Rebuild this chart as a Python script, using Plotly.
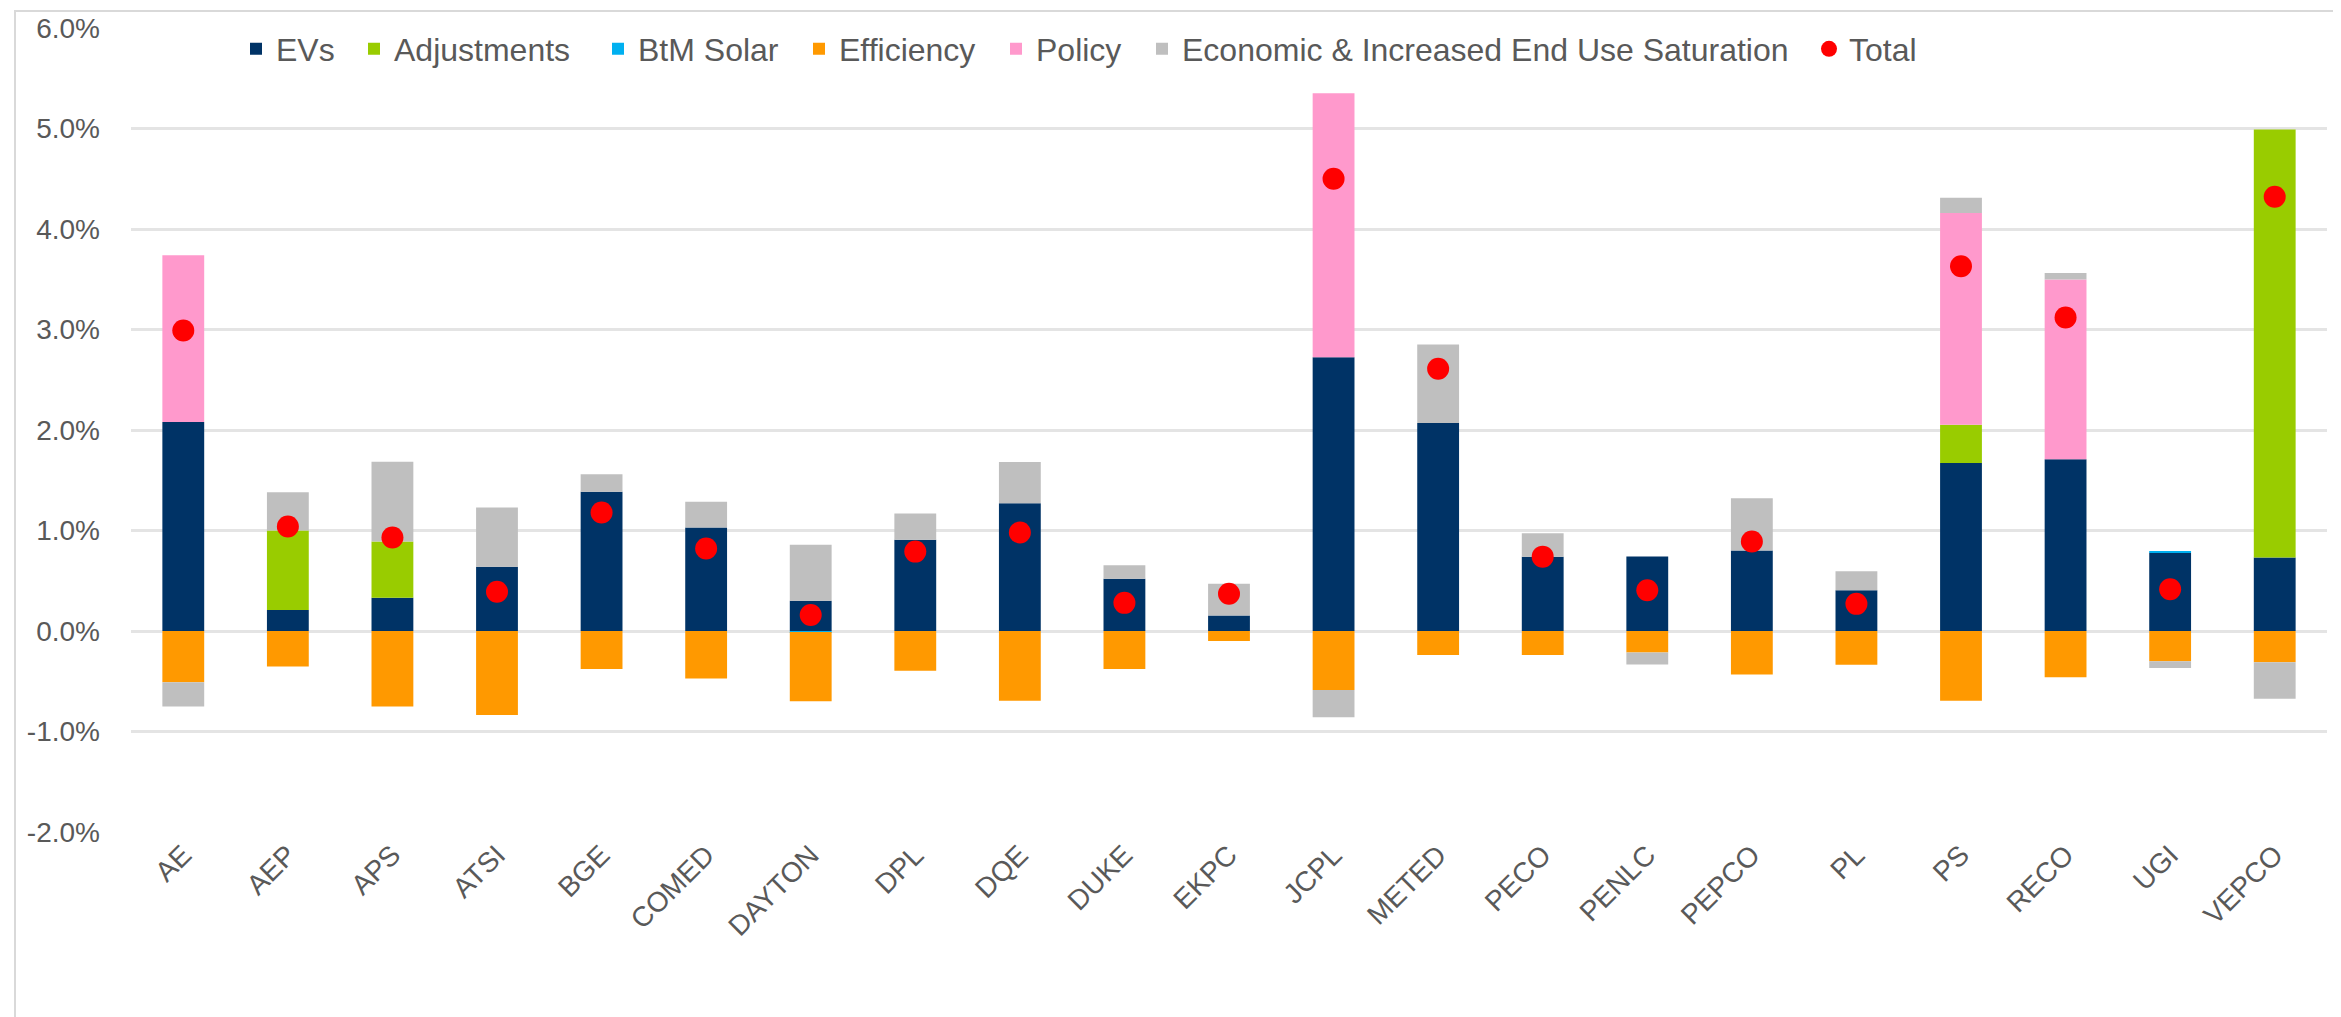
import plotly.graph_objects as go

categories = ["AE", "AEP", "APS", "ATSI", "BGE", "COMED", "DAYTON", "DPL", "DQE", "DUKE",
              "EKPC", "JCPL", "METED", "PECO", "PENLC", "PEPCO", "PL", "PS", "RECO", "UGI", "VEPCO"]

evs = [2.08, 0.21, 0.33, 0.64, 1.385, 1.03, 0.30, 0.908, 1.272, 0.52,
       0.153, 2.725, 2.07, 0.738, 0.741, 0.80, 0.405, 1.672, 1.709, 0.779, 0.731]
adjustments = [0, 0.79, 0.56, 0, 0, 0, 0, 0, 0, 0,
               0, 0, 0, 0, 0, 0, 0, 0.38, 0, 0, 4.26]
btm_solar = [0, 0, 0, 0, 0, 0, -0.01, 0, 0, 0,
             0, 0, 0, 0, 0, 0, 0, 0, 0, 0.01, 0]
efficiency = [-0.51, -0.354, -0.75, -0.837, -0.378, -0.473, -0.69, -0.395, -0.694, -0.378,
              -0.10, -0.588, -0.24, -0.24, -0.214, -0.432, -0.337, -0.694, -0.459, -0.30, -0.31]
policy = [1.66, 0, 0, 0, 0, 0, 0, 0, 0, 0,
          0, 2.625, 0, 0, 0, 0, 0, 2.106, 1.788, 0, 0]
economic = [-0.24, 0.38, 0.795, 0.59, 0.175, 0.255, 0.557, 0.26, 0.41, 0.133,
            0.316, -0.27, 0.78, 0.235, -0.12, 0.52, 0.19, 0.152, 0.066, -0.068, -0.365]
total = [2.99, 1.04, 0.93, 0.39, 1.18, 0.82, 0.16, 0.79, 0.98, 0.28,
         0.37, 4.50, 2.61, 0.74, 0.405, 0.89, 0.27, 3.63, 3.12, 0.415, 4.32]

tick_vals = [-2, -1, 0, 1, 2, 3, 4, 5, 6]
tick_labels = ["-2.0%", "-1.0%", "0.0%", "1.0%", "2.0%", "3.0%", "4.0%", "5.0%", "6.0%"]

series = [
    ("EVs", evs, "#003366"),
    ("Adjustments", adjustments, "#99cc00"),
    ("BtM Solar", btm_solar, "#00b0f0"),
    ("Efficiency", efficiency, "#ff9900"),
    ("Policy", policy, "#ff99cc"),
    ("Economic & Increased End Use Saturation", economic, "#bfbfbf"),
]

# pixel x where each legend entry's text starts (layout only)
legend_text_x = [281, 399, 643, 844, 1041, 1187, 1854]
legend_ids = ["legend"] + ["legend%d" % i for i in range(2, 8)]

fig = go.Figure()
for i, (name, vals, color) in enumerate(series):
    fig.add_trace(go.Bar(x=categories, y=vals, name=name, marker_color=color,
                         marker_line_width=0, legend=legend_ids[i], showlegend=True))
fig.add_trace(go.Scatter(x=categories, y=total, name="Total", mode="markers",
                         marker=dict(color="#ff0000", size=22, line_width=0),
                         legend=legend_ids[6], showlegend=True))

W, H = 2341, 1017
L, R, T, B = 123, 22, 20, 193
pw = W - L - R
ph = H - T - B

font = dict(family="Liberation Sans, Arial, sans-serif", color="#595959")

legend_layout = {}
for lid, tx in zip(legend_ids, legend_text_x):
    legend_layout[lid] = dict(
        orientation="h", x=(tx - 53 - L) / pw, xanchor="left",
        y=(H - B - 41) / ph, yanchor="middle",
        font=dict(**font, size=32), bgcolor="rgba(0,0,0,0)", itemwidth=30)

fig.update_layout(
    width=W, height=H,
    showlegend=True,
    margin=dict(l=L, r=R, t=T, b=B, autoexpand=False),
    barmode="relative",
    bargap=0.6,
    plot_bgcolor="white",
    paper_bgcolor="white",
    font=dict(**font, size=28),
    xaxis=dict(range=[-0.5, len(categories) - 0.5], tickangle=-45,
               tickfont=dict(**font, size=28), showgrid=False,
               showline=False, ticks="", automargin=False),
    yaxis=dict(range=[-2, 6], tickvals=tick_vals, ticktext=tick_labels,
               tickfont=dict(**font, size=28), showgrid=True, gridcolor="#e4e4e4",
               gridwidth=3, zeroline=True, zerolinecolor="#e4e4e4", zerolinewidth=3,
               showline=False, ticks="", ticklabelstandoff=30, automargin=False),
    shapes=[dict(type="rect", xref="paper", yref="paper",
                 x0=(7 - L) / pw, x1=(2333 - L) / pw,
                 y0=(H - B - 1030) / ph, y1=(H - B - 3) / ph,
                 line=dict(color="#d9d9d9", width=2), fillcolor="rgba(0,0,0,0)",
                 layer="below")],
    **legend_layout,
)

fig.write_html("out.html")
